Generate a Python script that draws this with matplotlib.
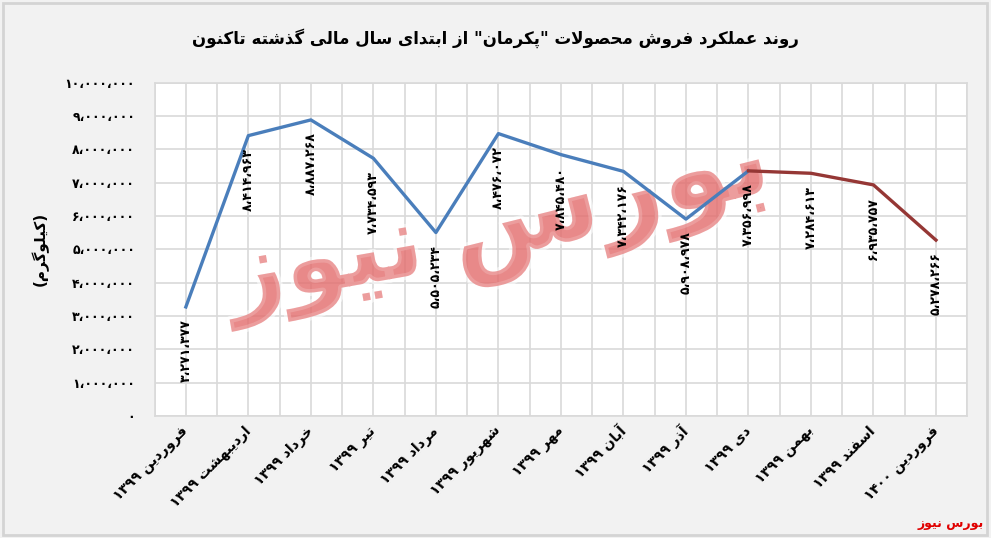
import matplotlib
matplotlib.use("Agg")
import matplotlib.pyplot as plt
import matplotlib.patheffects as pe
from matplotlib.patches import Rectangle
import numpy as np

# data
months = ["فروردین ۱۳۹۹", "اردیبهشت ۱۳۹۹", "خرداد ۱۳۹۹", "تیر ۱۳۹۹", "مرداد ۱۳۹۹",
          "شهریور ۱۳۹۹", "مهر ۱۳۹۹", "آبان ۱۳۹۹", "آذر ۱۳۹۹", "دی ۱۳۹۹",
          "بهمن ۱۳۹۹", "اسفند ۱۳۹۹", "فروردین ۱۴۰۰"]
sales_99 = [3271377, 8414963, 8887268, 7734593, 5505234,
            8476072, 7845480, 7342176, 5908978, 7356998]
sales_late = [7356998, 7284613, 6935757, 5278266]
yticks = list(range(0, 10000001, 1000000))

title = 'روند عملکرد فروش محصولات "پکرمان" از ابتدای سال مالی گذشته تاکنون'
ylabel = "(کیلوگرم)"
source = "بورس نیوز"

# minimal persian shaping (presentation forms), matplotlib has no bidi
FORMS = {
    'ا': ('\uFE8D', '\uFE8E', None, None),
    'آ': ('\uFE81', '\uFE82', None, None),
    'ب': ('\uFE8F', '\uFE90', '\uFE91', '\uFE92'),
    'پ': ('\uFB56', '\uFB57', '\uFB58', '\uFB59'),
    'ت': ('\uFE95', '\uFE96', '\uFE97', '\uFE98'),
    'ح': ('\uFEA1', '\uFEA2', '\uFEA3', '\uFEA4'),
    'خ': ('\uFEA5', '\uFEA6', '\uFEA7', '\uFEA8'),
    'د': ('\uFEA9', '\uFEAA', None, None),
    'ذ': ('\uFEAB', '\uFEAC', None, None),
    'ر': ('\uFEAD', '\uFEAE', None, None),
    'ز': ('\uFEAF', '\uFEB0', None, None),
    'س': ('\uFEB1', '\uFEB2', '\uFEB3', '\uFEB4'),
    'ش': ('\uFEB5', '\uFEB6', '\uFEB7', '\uFEB8'),
    'ص': ('\uFEB9', '\uFEBA', '\uFEBB', '\uFEBC'),
    'ع': ('\uFEC9', '\uFECA', '\uFECB', '\uFECC'),
    'ف': ('\uFED1', '\uFED2', '\uFED3', '\uFED4'),
    'ک': ('\uFB8E', '\uFB8F', '\uFB90', '\uFB91'),
    'گ': ('\uFB92', '\uFB93', '\uFB94', '\uFB95'),
    'ل': ('\uFEDD', '\uFEDE', '\uFEDF', '\uFEE0'),
    'م': ('\uFEE1', '\uFEE2', '\uFEE3', '\uFEE4'),
    'ن': ('\uFEE5', '\uFEE6', '\uFEE7', '\uFEE8'),
    'ه': ('\uFEE9', '\uFEEA', '\uFEEB', '\uFEEC'),
    'و': ('\uFEED', '\uFEEE', None, None),
    'ی': ('\uFBFC', '\uFBFD', '\uFBFE', '\uFBFF'),
}


def shape_word(w):
    out = []
    i = 0
    while i < len(w):
        ch = w[i]
        if ch not in FORMS:
            out.append(ch)
            i += 1
            continue
        prev = i > 0 and w[i - 1] in FORMS and FORMS[w[i - 1]][2] is not None
        if ch == 'ل' and i + 1 < len(w) and w[i + 1] == 'ا':
            out.append('\uFEFC' if prev else '\uFEFB')
            i += 2
            continue
        nxt = i + 1 < len(w) and w[i + 1] in FORMS and FORMS[ch][2] is not None
        iso, fin, ini, med = FORMS[ch]
        if prev and nxt:
            out.append(med)
        elif prev:
            out.append(fin)
        elif nxt:
            out.append(ini)
        else:
            out.append(iso)
        i += 1
    return "".join(out)


def fa(text):
    toks = []
    for t in text.split(" "):
        if any(c in FORMS for c in t):
            s = shape_word(t)[::-1]
            s = s.translate(str.maketrans("()", ")("))
            toks.append(s)
        else:
            toks.append(t)
    return " ".join(toks[::-1])


def fa_num(v):
    return f"{v:,}".translate(str.maketrans("0123456789,", "۰۱۲۳۴۵۶۷۸۹،"))


plt.rcParams['font.family'] = ['DejaVu Sans']
plt.rcParams['font.weight'] = 'bold'

fig = plt.figure(figsize=(9.91, 5.38), dpi=100)
fig.patch.set_facecolor('#f2f2f2')
fig.patches.append(Rectangle((0.003, 0.005), 0.993, 0.99, transform=fig.transFigure,
                             fill=False, edgecolor='#d4d4d4', lw=2))
ax = fig.add_axes([0.156, 0.227, 0.82, 0.619])
ax.set_facecolor('white')

x = np.arange(len(months))
ax.set_xlim(-0.5, len(months) - 0.5)
ax.set_ylim(0, 10000000)
ax.set_yticks(yticks)
ax.set_yticklabels([fa_num(v) for v in yticks], fontsize=9, fontweight='bold')
ax.set_xticks(x)
ax.set_xticklabels([fa(m) for m in months], rotation=45, ha='right', va='center',
                   rotation_mode='anchor', fontsize=10, fontweight='bold')
ax.set_xticks(np.arange(-0.5, len(months), 0.5), minor=True)
ax.tick_params(axis='both', which='both', length=0)
ax.tick_params(axis='y', pad=14)
ax.tick_params(axis='x', pad=9)
ax.grid(True, which='both', axis='x', color='#d9d9d9', lw=1.2)
ax.grid(True, which='major', axis='y', color='#d9d9d9', lw=1.2)
ax.set_axisbelow(True)
for s in ax.spines.values():
    s.set_color('#d9d9d9')
    s.set_linewidth(1.2)

# watermark (rough stand-in for the logo)
wm = dict(transform=ax.transAxes, color='#e36c6c', alpha=0.55, ha='center',
          va='center', zorder=1.5, clip_on=True,
          path_effects=[pe.withStroke(linewidth=5, foreground='white')])
ax.text(0.56, 0.64, fa("بورس"), fontsize=80, rotation=14, **wm)
ax.text(0.21, 0.45, fa("نیوز"), fontsize=72, rotation=10, **wm)

ax.plot(x[:len(sales_99)], sales_99, color='#4a7ebb', lw=2.4, zorder=3)
ax.plot(x[len(sales_99) - 1:], sales_late, color='#953735', lw=2.4, zorder=3)

labels = sales_99 + sales_late[1:]
for xi, v in zip(x, labels):
    ax.annotate(fa_num(v), (xi, v), xytext=(0, -9), textcoords='offset points',
                rotation=90, ha='center', va='top', fontsize=9, fontweight='bold',
                color='black', zorder=4)

ax.set_ylabel(fa(ylabel), fontsize=11, fontweight='bold')
ax.yaxis.set_label_coords(-0.13, 0.5)

fig.text(0.5, 0.93, fa(title), ha='center', va='center', fontsize=12, fontweight='bold')
fig.text(0.993, 0.027, fa(source), ha='right', va='center', fontsize=9,
         fontweight='bold', color='#e00000')

fig.savefig("out.png", dpi=100, facecolor=fig.get_facecolor())
